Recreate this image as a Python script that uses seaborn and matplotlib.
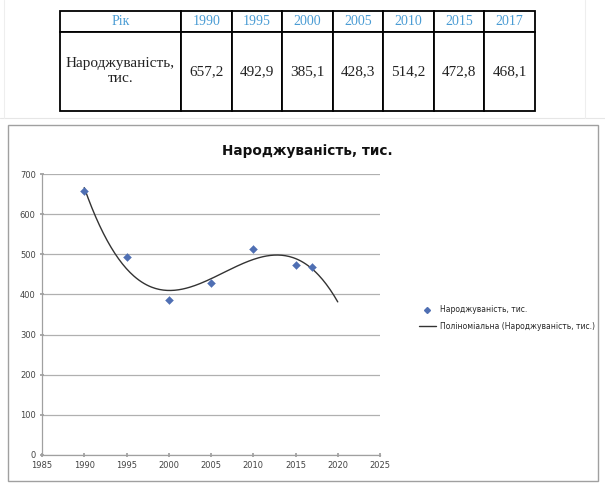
import matplotlib
matplotlib.use('Agg')
import matplotlib.pyplot as plt
import seaborn as sns
import numpy as np
import pandas as pd
from matplotlib.patches import Rectangle
from matplotlib.lines import Line2D

# data
years = [1990, 1995, 2000, 2005, 2010, 2015, 2017]
births = [657.2, 492.9, 385.1, 428.3, 514.2, 472.8, 468.1]
year_labels = ['1990', '1995', '2000', '2005', '2010', '2015', '2017']
birth_labels = ['657,2', '492,9', '385,1', '428,3', '514,2', '472,8', '468,1']
series_name = 'Народжуваність, тис.'
trend_name = 'Поліноміальна (Народжуваність, тис.)'
trend_order = 3
trend_forward = 3

sns.set_theme(style='white')
plt.rcParams['font.family'] = ['DejaVu Sans']

W, H = 605, 484
fig = plt.figure(figsize=(W / 100, H / 100), dpi=100)

def px_axes(x0, y0, x1, y1):
    return fig.add_axes([x0 / W, 1 - y1 / H, (x1 - x0) / W, (y1 - y0) / H])

# faint spreadsheet grid in the background
bg = fig.add_axes([0, 0, 1, 1])
bg.set_axis_off()
bg.set_xlim(0, W)
bg.set_ylim(H, 0)
bg.axhline(118, color='#e6e6e6', lw=0.8)
for xx in [4, 585]:
    bg.plot([xx, xx], [0, 118], color='#eeeeee', lw=0.8)

# ---- table at top ----
tax = px_axes(60, 11, 535, 111)
tax.set_axis_off()
col_w = [121] + [50.6] * 7
total_w = sum(col_w)
cell_text = [['Рік'] + year_labels, ['Народжуваність,\nтис.'] + birth_labels]
tbl = tax.table(cellText=cell_text, cellLoc='center', loc='center',
                colWidths=[w / total_w for w in col_w], bbox=[0, 0, 1, 1])
tbl.auto_set_font_size(False)
row_h = [21 / 100, 79 / 100]
for (r, c), cell in tbl.get_celld().items():
    cell.set_height(row_h[r])
    cell.set_y(1 - sum(row_h[:r + 1]))
    cell.set_linewidth(1.3)
    cell.set_edgecolor('black')
    cell.set_facecolor('white')
    txt = cell.get_text()
    txt.set_fontfamily('Liberation Serif')
    if r == 0:
        txt.set_fontsize(10)
        txt.set_color('#4a9cd4')
    else:
        txt.set_fontsize(11)
        txt.set_color('#222222')

# ---- chart frame ----
frame = fig.add_axes([0, 0, 1, 1])
frame.set_axis_off()
frame.set_xlim(0, W)
frame.set_ylim(H, 0)
frame.add_patch(Rectangle((8, 125), 590, 356, facecolor='white', edgecolor='#a0a0a0', lw=1.0))
frame.text(307, 151, series_name, ha='center', va='center', fontsize=9.8, fontweight='bold', color='#111111')

# ---- chart ----
ax = px_axes(42, 174, 380, 455)
df = pd.DataFrame({'year': years, 'births': births})

# Excel-style polynomial trendline (order 3, forecast forward 3 years)
coef = np.polyfit(df['year'] - 2000, df['births'], trend_order)
trend_x = np.linspace(min(years), max(years) + trend_forward, 200)
trend = pd.DataFrame({'year': trend_x, 'births': np.polyval(coef, trend_x - 2000)})

sns.lineplot(data=trend, x='year', y='births', ax=ax, color='#333333', lw=1.0, zorder=2)
sns.scatterplot(data=df, x='year', y='births', ax=ax, marker='D', s=16,
                color='#4f6fb3', edgecolor='#4f6fb3', zorder=3)

ax.set_xlim(1985, 2025)
ax.set_ylim(0, 700)
ax.set_xticks(range(1985, 2026, 5))
ax.set_yticks(range(0, 701, 100))
ax.yaxis.grid(True, color='#b0b0b0', lw=0.9)
ax.xaxis.grid(False)
ax.set_xlabel('')
ax.set_ylabel('')
for s in ['top', 'right']:
    ax.spines[s].set_visible(False)
for s in ['left', 'bottom']:
    ax.spines[s].set_color('#a0a0a0')
    ax.spines[s].set_linewidth(0.9)
ax.tick_params(axis='both', labelsize=6, colors='#444444', length=3, direction='inout',
               color='#a0a0a0', left=True, bottom=True, pad=3)
ax.set_facecolor('white')

handles = [Line2D([], [], marker='D', color='#4f6fb3', linestyle='none', markersize=3),
           Line2D([], [], color='#333333', lw=1.0)]
fig.legend(handles, [series_name, trend_name], loc='center left',
           bbox_to_anchor=(412 / W, 1 - 318 / H), frameon=False, fontsize=5.5,
           handlelength=2.2, labelspacing=1.0, handletextpad=0.5)

fig.savefig('out.png', dpi=100)
